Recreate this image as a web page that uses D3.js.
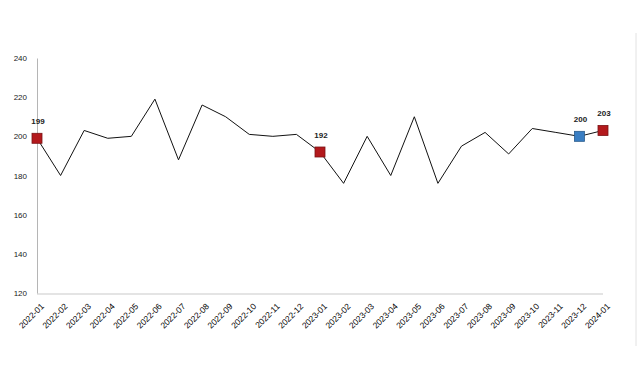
<!DOCTYPE html>
<html>
<head>
<meta charset="utf-8">
<script src="https://cdn.jsdelivr.net/npm/d3@7"></script>
<style>
  body { margin: 0; background: #fff; }
  svg text { font-family: "Liberation Sans", Arial, sans-serif; }
</style>
</head>
<body>
<div id="chart"></div>
<script>
// Data
var months = ["2022-01","2022-02","2022-03","2022-04","2022-05","2022-06","2022-07","2022-08",
  "2022-09","2022-10","2022-11","2022-12","2023-01","2023-02","2023-03","2023-04","2023-05",
  "2023-06","2023-07","2023-08","2023-09","2023-10","2023-11","2023-12","2024-01"];
var values = [199, 180, 203, 199, 200, 219, 188, 216, 210, 201, 200, 201, 192, 176, 200, 180, 210,
  176, 195, 202, 191, 204, 202, 200, 203];
var yTicks = [120, 140, 160, 180, 200, 220, 240];
// highlighted points: month -> colour kind
var markedMonths = ["2022-01", "2023-01", "2023-12", "2024-01"];
var markedKinds = ["red", "red", "blue", "red"];

var svgWidth = 641, svgHeight = 380;
var margin = { top: 58, right: 38, bottom: 87, left: 37 };
var width = svgWidth - margin.left - margin.right;
var height = svgHeight - margin.top - margin.bottom;

var svg = d3.select("#chart").append("svg")
  .attr("width", svgWidth)
  .attr("height", svgHeight);

var g = svg.append("g")
  .attr("transform", `translate(${margin.left}, ${margin.top})`);

var x = d3.scalePoint().domain(months).range([0, width]);
var y = d3.scaleLinear().domain([120, 240]).range([height, 0]);

// bottom baseline
g.append("line")
  .attr("x1", 0).attr("x2", width)
  .attr("y1", height + 1).attr("y2", height + 1)
  .attr("stroke", "#e4e4e4").attr("stroke-width", 2);

// y axis
var yAxis = g.append("g")
  .call(d3.axisLeft(y).tickValues(yTicks).tickSize(0).tickPadding(10));
yAxis.select(".domain").attr("stroke", "#b5b5b5");
yAxis.selectAll("text").attr("font-size", "8px").attr("fill", "#222");

// x axis labels
var xAxis = g.append("g")
  .attr("transform", `translate(0, ${height})`)
  .call(d3.axisBottom(x).tickSize(0));
xAxis.select(".domain").remove();
xAxis.selectAll("text")
  .attr("font-size", "8.5px")
  .attr("fill", "#000")
  .attr("text-anchor", "end")
  .attr("dy", null)
  .attr("y", 0)
  .attr("transform", "translate(7, 14) rotate(-45)");

// line
var line = d3.line()
  .x((d, i) => x(months[i]))
  .y(d => y(d));

g.append("path")
  .datum(values)
  .attr("fill", "none")
  .attr("stroke", "#111")
  .attr("stroke-width", 1)
  .attr("d", line);

// markers
var marks = markedMonths.map(function (m, i) {
  return { month: m, value: values[months.indexOf(m)], kind: markedKinds[i] };
});
var fills = { red: "#b3191c", blue: "#3a7ec3" };
var strokes = { red: "#7a1214", blue: "#2a5b8c" };
var sq = 10;

g.selectAll("rect.mark")
  .data(marks)
  .enter().append("rect")
  .attr("class", "mark")
  .attr("x", d => x(d.month) - sq / 2)
  .attr("y", d => y(d.value) - sq / 2)
  .attr("width", sq)
  .attr("height", sq)
  .attr("fill", d => fills[d.kind])
  .attr("stroke", d => strokes[d.kind])
  .attr("stroke-width", 0.8);

g.selectAll("text.mlabel")
  .data(marks)
  .enter().append("text")
  .attr("class", "mlabel")
  .attr("x", d => x(d.month) + 1)
  .attr("y", d => y(d.value) - 14)
  .attr("text-anchor", "middle")
  .attr("font-size", "8px")
  .attr("font-weight", "bold")
  .attr("fill", "#222")
  .text(d => d.value);

// faint frame edge on the right
svg.append("line")
  .attr("x1", 636).attr("x2", 636)
  .attr("y1", 33).attr("y2", 346)
  .attr("stroke", "#e2e2e2")
  .attr("stroke-width", 1);
</script>
</body>
</html>
